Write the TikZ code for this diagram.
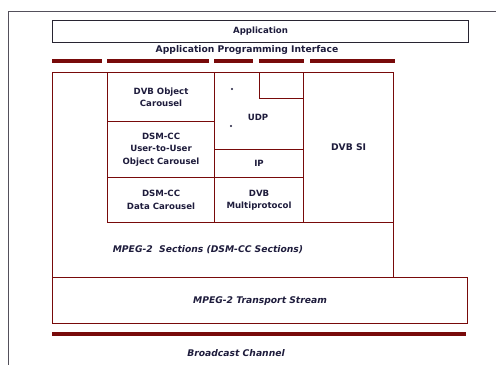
\documentclass[tikz,border=0pt]{standalone}
\usepackage{fontspec}
\setmainfont{DejaVu Sans}
\definecolor{maroon}{RGB}{120,10,10}
\definecolor{ink}{RGB}{30,28,60}
\definecolor{frame}{RGB}{40,36,50}
\tikzset{
  cell/.style={draw=maroon, line width=1.1pt, anchor=north west, inner sep=0pt, text=ink, align=center},
  appbox/.style={draw=frame, line width=1.1pt, anchor=north west, inner sep=0pt},
  lbl/.style={text=ink, font=\fontsize{8.6}{12.5}\selectfont\bfseries, inner sep=0pt, align=center},
  slbl/.style={lbl, font=\fontsize{9.2}{12.5}\selectfont\bfseries\itshape},
  apiseg/.style={draw=maroon, line width=3.5pt},
  chan/.style={draw=maroon, line width=4pt},
  border/.style={draw=frame!80, line width=0.9pt}
}
\begin{document}
\begin{tikzpicture}[x=1pt,y=-1pt]
\useasboundingbox (0,0) rectangle (496,365);
% outer frame lines
\coordinate (fTL) at (8,11);
\coordinate (fTR) at (496,11);
\coordinate (fBL) at (8,365);
\draw[border] (fTR) -- (fTL) -- (fBL);
% application
\node[appbox, minimum width=416pt, minimum height=22pt] (app) at (52,20) {};
\node[lbl] (applbl) at (app.center) {Application};
\node[lbl, font=\fontsize{9.2}{12}\selectfont\bfseries] (api) at (247,50) {Application Programming Interface};
% API segments
\foreach \a/\b [count=\i] in {52/102, 107/209, 214/253, 259/304, 310/395}{
  \coordinate (s\i a) at (\a,61);
  \coordinate (s\i b) at (\b,61);
  \draw[apiseg] (s\i a) -- (s\i b);
}
% main sections box
\node[cell, minimum width=341pt, minimum height=205pt] (main) at (52,72) {};
\node[slbl] (mainlbl) at (208,250) {MPEG-2~ Sections (DSM-CC Sections)};
% cells
\node[cell, minimum width=107pt, minimum height=49pt] (objcar) at (107,72) {};
\node[lbl] at (objcar.center) {DVB Object\\Carousel};
\node[cell, minimum width=107pt, minimum height=56pt] (u2u) at (107,121) {};
\node[lbl] at (u2u.center) {DSM-CC\\User-to-User\\Object Carousel};
\node[cell, minimum width=107pt, minimum height=45pt] (datacar) at (107,177) {};
\node[lbl] at (datacar.center) {DSM-CC\\Data Carousel};
\node[cell, minimum width=89pt, minimum height=77pt] (udp) at (214,72) {};
\node[cell, minimum width=44pt, minimum height=26pt] (udpsmall) at (259,72) {};
\node[lbl] (udplbl) at (258,117) {UDP};
\fill[ink] (232,89) circle (1.1pt) (231,126) circle (1.1pt);
\node[cell, minimum width=89pt, minimum height=28pt] (ip) at (214,149) {};
\node[lbl] at (ip.center) {IP};
\node[cell, minimum width=89pt, minimum height=45pt] (mp) at (214,177) {};
\node[lbl] at (mp.center) {DVB\\Multiprotocol};
\node[cell, minimum width=90pt, minimum height=150pt] (si) at (303,72) {};
\node[lbl, font=\fontsize{9.2}{12}\selectfont\bfseries] at (si.center) {DVB SI};
% transport stream
\node[cell, minimum width=415pt, minimum height=46pt] (ts) at (52,277) {};
\node[slbl] at (ts.center) {MPEG-2 Transport Stream};
% broadcast channel
\coordinate (c1) at (52,334);
\coordinate (c2) at (466,334);
\draw[chan] (c1) -- (c2);
\node[slbl] (bc) at (236,353) {Broadcast Channel};
\end{tikzpicture}
\end{document}
